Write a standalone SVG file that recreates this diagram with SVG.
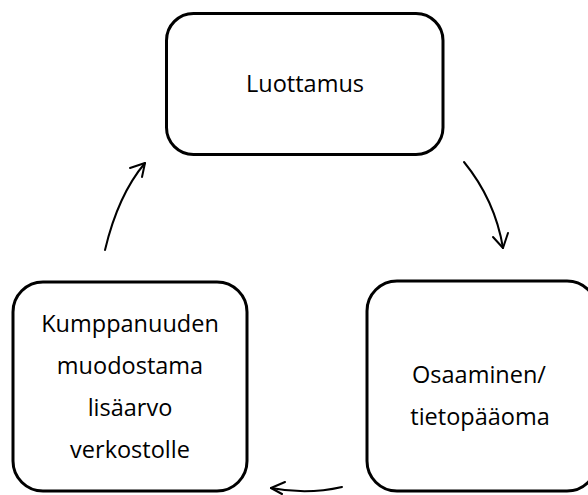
<svg xmlns="http://www.w3.org/2000/svg" width="588" height="495" viewBox="0 0 588 495">
<style>
.box{fill:#fff;stroke:#000;stroke-width:3}
.lbl{font-family:"Open Sans","Liberation Sans",sans-serif;font-size:23.5px;fill:#000;text-anchor:middle}
.arr{fill:none;stroke:#000;stroke-width:2;stroke-linecap:round;stroke-linejoin:round}
</style>
<rect width="588" height="495" fill="#fff"/>
<g id="luottamus">
<rect class="box" x="166.5" y="13.5" width="276.5" height="141" rx="27"/>
<text class="lbl" x="305" y="92">Luottamus</text>
</g>
<g id="osaaminen">
<rect class="box" x="367" y="281" width="230" height="210" rx="30"/>
<text class="lbl" x="479" y="383">Osaaminen/</text>
<text class="lbl" x="480" y="425">tietopääoma</text>
</g>
<g id="kumppanuus">
<rect class="box" x="13" y="282" width="234" height="209" rx="30"/>
<text class="lbl" x="130" y="332">Kumppanuuden</text>
<text class="lbl" x="130" y="374">muodostama</text>
<text class="lbl" x="130" y="416">lisäarvo</text>
<text class="lbl" x="130" y="458">verkostolle</text>
</g>
<g id="connectors">
<path class="arr" d="M105,250 Q118,195 145,163"/>
<path class="arr" d="M130,168 L145,163 L142,177"/>
<path class="arr" d="M464,162 Q495,200 503,248"/>
<path class="arr" d="M493,237 L503,248 L508,233"/>
<path class="arr" d="M342,487 Q307,495 271,488"/>
<path class="arr" d="M285,482 L271,488 L282,494"/>
</g>
</svg>
